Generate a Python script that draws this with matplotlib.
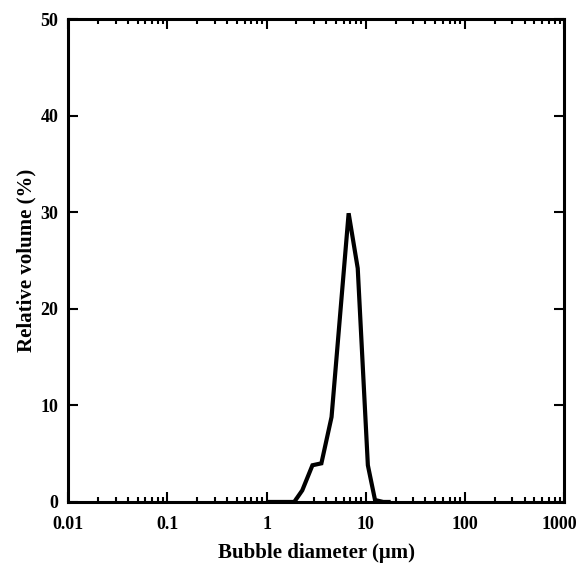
import numpy as np
import matplotlib
matplotlib.use("Agg")
import matplotlib.pyplot as plt
import matplotlib.transforms as mtransforms
from matplotlib.ticker import LogLocator, NullFormatter, FixedLocator

# bubble size distribution
diameter = [1.06, 1.3, 1.6, 1.9, 2.29, 2.9, 3.57, 4.52, 6.72, 8.3, 10.5, 12.4, 15, 17]
volume = [0, 0, 0, 0, 1.2, 3.8, 4.0, 8.8, 29.9, 24.2, 3.8, 0.2, 0, 0]

x_ticks = [0.01, 0.1, 1, 10, 100, 1000]
x_labels = ["0.01", "0.1", "1", "10", "100", "1000"]
y_ticks = [0, 10, 20, 30, 40, 50]

plt.rcParams["font.family"] = ["Liberation Serif", "DejaVu Serif"]
plt.rcParams["font.weight"] = "bold"

fig = plt.figure(figsize=(5.78, 5.64), dpi=100)
ax = fig.add_axes([0.118, 0.110, 0.858, 0.856])

ax.plot(diameter, volume, color="black", linewidth=3.0, solid_joinstyle="miter")

ax.set_xscale("log")
ax.set_xlim(0.01, 1000)
ax.set_ylim(0, 50)

ax.xaxis.set_major_locator(FixedLocator(x_ticks))
ax.set_xticklabels(x_labels)
ax.xaxis.set_minor_locator(LogLocator(base=10, subs=np.arange(2, 10), numticks=20))
ax.xaxis.set_minor_formatter(NullFormatter())
ax.set_yticks(y_ticks)

for s in ax.spines.values():
    s.set_linewidth(2.2)

ax.tick_params(which="both", direction="in", top=True, right=True, width=1.5)
ax.tick_params(which="major", length=7, labelsize=13)
ax.tick_params(axis="x", which="major", pad=10)
ax.tick_params(axis="y", which="major", pad=7)
ax.tick_params(which="minor", length=3.6)
for lab in ax.get_xticklabels() + ax.get_yticklabels():
    lab.set_fontweight("bold")

# the last label sits a little left of its tick so it stays inside the figure
last = ax.get_xticklabels()[-1]
last.set_transform(last.get_transform() + mtransforms.ScaledTranslation(-5 / 100, 0, fig.dpi_scale_trans))

ax.set_xlabel("Bubble diameter (\u03bcm)", fontsize=15, fontweight="bold", labelpad=7)
ax.set_ylabel("Relative volume (%)", fontsize=15, fontweight="bold", labelpad=3)

fig.savefig("out.png", dpi=100)
